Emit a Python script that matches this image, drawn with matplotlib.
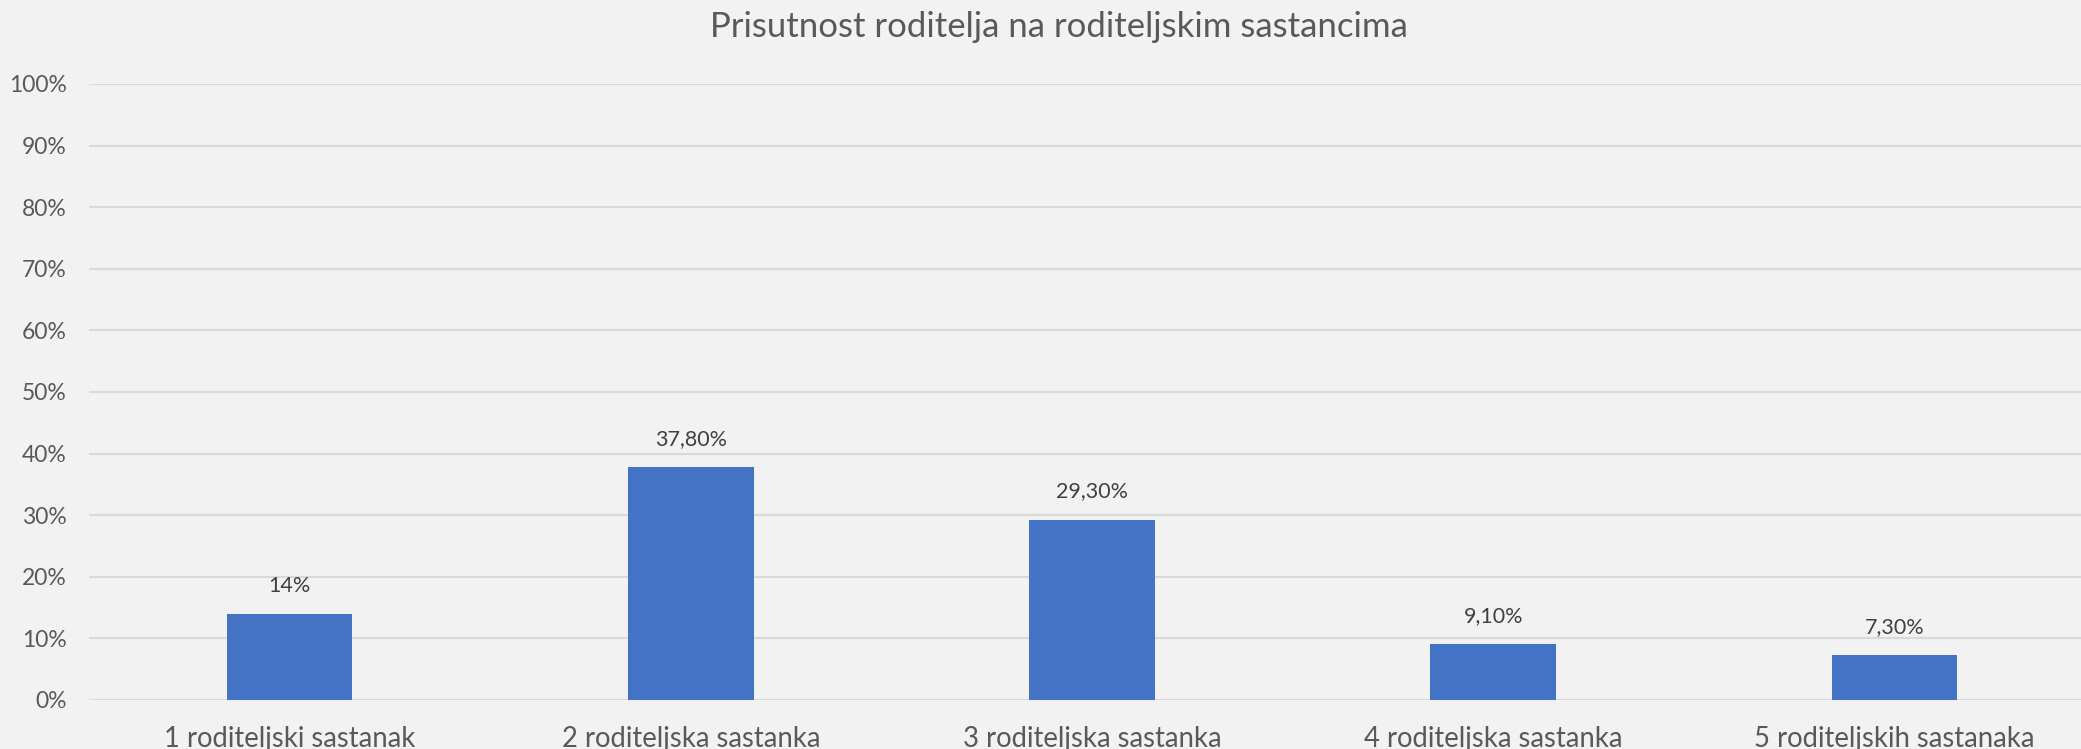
import matplotlib
matplotlib.use("Agg")
import matplotlib.pyplot as plt
from matplotlib.ticker import FixedLocator

# ------------------------------------------------------------------
# data
# ------------------------------------------------------------------
categories = [
    "1 roditeljski sastanak",
    "2 roditeljska sastanka",
    "3 roditeljska sastanka",
    "4 roditeljska sastanka",
    "5 roditeljskih sastanaka",
]
values = [0.14, 0.378, 0.293, 0.091, 0.073]
value_labels = ["14%", "37,80%", "29,30%", "9,10%", "7,30%"]
y_ticks = [0.0, 0.1, 0.2, 0.3, 0.4, 0.5, 0.6, 0.7, 0.8, 0.9, 1.0]
y_tick_labels = ["0%", "10%", "20%", "30%", "40%", "50%", "60%", "70%", "80%", "90%", "100%"]
title = "Prisutnost roditelja na roditeljskim sastancima"

# ------------------------------------------------------------------
# style
# ------------------------------------------------------------------
BG = "#F2F2F2"
BAR = "#4472C4"
GRID = "#D9D9D9"
TXT = "#595959"
LBL = "#404040"

plt.rcParams["font.family"] = ["Lato", "DejaVu Sans"]

W, H, DPI = 2081, 749, 100
fig = plt.figure(figsize=(W / DPI, H / DPI), dpi=DPI, facecolor=BG)

# axes reaches past the right edge of the figure, like the cropped original
left_px, right_px = 89, 2095
top_px, bottom_px = 84, 700
ax = fig.add_axes([left_px / W, 1 - bottom_px / H,
                   (right_px - left_px) / W, (bottom_px - top_px) / H])
ax.set_facecolor(BG)

x = list(range(len(categories)))
ax.bar(x, values, width=0.313, color=BAR, zorder=3)

for xi, v, lab in zip(x, values, value_labels):
    ax.annotate(lab, (xi, v), xytext=(0, 18), textcoords="offset pixels",
                ha="center", va="bottom", fontsize=15.5, color=LBL)

ax.set_xlim(-0.5, len(categories) - 0.5)
ax.set_ylim(0, 1.0)
ax.yaxis.set_major_locator(FixedLocator(y_ticks))
ax.set_yticklabels(y_tick_labels)
ax.set_xticks(x)
ax.set_xticklabels(categories)

ax.grid(axis="y", color=GRID, linewidth=1.5, zorder=0)
for s in ax.spines.values():
    s.set_visible(False)
ax.tick_params(axis="y", length=0, pad=16, labelsize=16.5, labelcolor=TXT)
ax.tick_params(axis="x", length=0, pad=19, labelsize=19.8, labelcolor=TXT)

fig.text(1059 / W, 1 - 27 / H, title, ha="center", va="center",
         fontsize=25, color=TXT)

fig.savefig("out.png", dpi=DPI, facecolor=BG)
